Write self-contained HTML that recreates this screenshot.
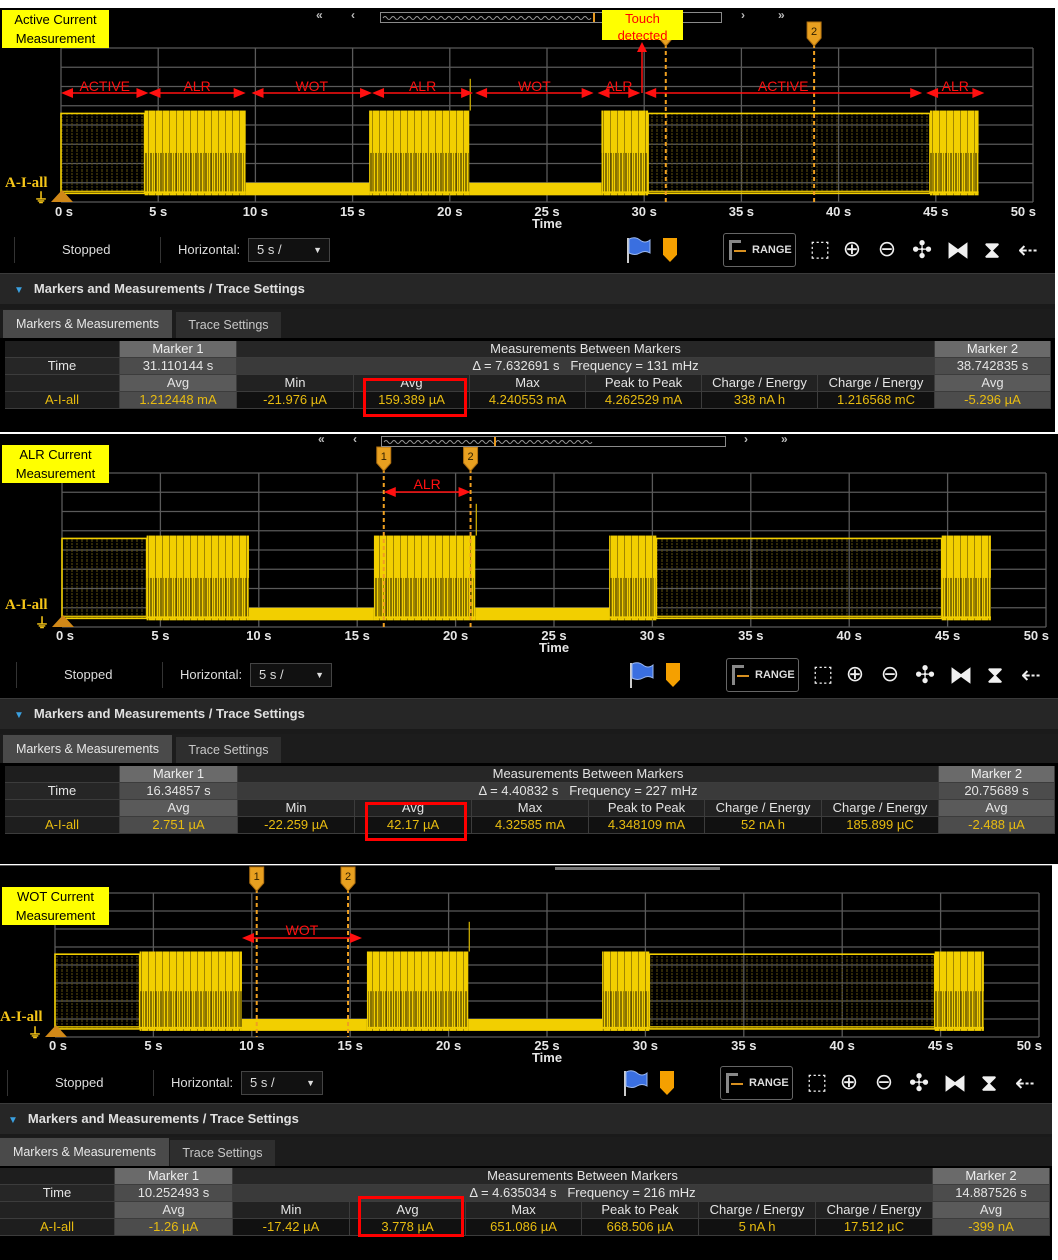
<!DOCTYPE html>
<html><head><meta charset="utf-8">
<style>
html,body{margin:0;padding:0;background:#fff;}
#root{position:relative;width:1058px;height:1260px;overflow:hidden;background:#fff;font-family:"Liberation Sans",sans-serif;}
.pnl{position:absolute;left:0;background:#000;}
.abs{position:absolute;box-sizing:border-box;}
.t{position:absolute;white-space:nowrap;}
.cell{position:absolute;box-sizing:border-box;text-align:center;font-size:13px;line-height:16px;color:#e4e4e4;white-space:nowrap;overflow:hidden;}
svg text{font-family:"Liberation Sans",sans-serif;}
</style></head>
<body>
<div id="root"></div>
<script>
// ---- waveform data (time in seconds, level in vertical divisions) ----
const segStart = [0, 4.3, 9.5, 15.85, 21.0, 27.8, 30.2, 44.7];
const segEnd   = [4.3, 9.5, 15.85, 21.0, 27.8, 30.2, 44.7, 47.2];
const segType  = ['active','alr','wot','alr','wot','alr','active','alr'];
const levelActive = 4.6;
const levelAlr = 4.75;
const levelWot = 1.0;
const levelBase = 0.45;
const tickVals = [0,5,10,15,20,25,30,35,40,45,50];
const tickLabels = ['0 s','5 s','10 s','15 s','20 s','25 s','30 s','35 s','40 s','45 s','50 s'];
const spikeTime = 21.0;
// annotations for panel 1
const annStart = [0, 4.5, 9.8, 16.0, 21.3, 27.6, 30.0, 44.5];
const annEnd   = [4.5, 9.5, 16.0, 21.2, 27.4, 29.8, 44.3, 47.5];
const annLabel = ['ACTIVE','ALR','WOT','ALR','WOT','ALR','ACTIVE','ALR'];
// measurement tables
const p1Vals = {m1:'31.110144 s', m2:'38.742835 s', delta:'\u0394 = 7.632691 s   Frequency = 131 mHz', row:['1.212448 mA','-21.976 \u00b5A','159.389 \u00b5A','4.240553 mA','4.262529 mA','338 nA h','1.216568 mC','-5.296 \u00b5A']};
const p2Vals = {m1:'16.34857 s', m2:'20.75689 s', delta:'\u0394 = 4.40832 s   Frequency = 227 mHz', row:['2.751 \u00b5A','-22.259 \u00b5A','42.17 \u00b5A','4.32585 mA','4.348109 mA','52 nA h','185.899 \u00b5C','-2.488 \u00b5A']};
const p3Vals = {m1:'10.252493 s', m2:'14.887526 s', delta:'\u0394 = 4.635034 s   Frequency = 216 mHz', row:['-1.26 \u00b5A','-17.42 \u00b5A','3.778 \u00b5A','651.086 \u00b5A','668.506 \u00b5A','5 nA h','17.512 \u00b5C','-399 nA']};
const colHeads = ['Avg','Min','Avg','Max','Peak to Peak','Charge / Energy','Charge / Energy','Avg'];

const root = document.getElementById('root');
const NS = 'http://www.w3.org/2000/svg';
function nm(el, n, i){
  
  
}
function div(parent, cls, css, txt){
  const d = document.createElement('div');
  d.className = cls; d.style.cssText = css;
  if (txt !== undefined) d.textContent = txt;
  parent.appendChild(d); return d;
}
function sv(parent, tag, at){
  const e = document.createElementNS(NS, tag);
  for (const k in at) e.setAttribute(k, at[k]);
  parent.appendChild(e); return e;
}

const panels = [
 {top:8, h:424, w:1055, x0:61, x50:1033, gTop:48, gBot:202, tickY:216, timeY:228, label:['Active Current','Measurement'], lab:[2,10], aiY:186, ovY:17, ovX:[380,722], arrows:[320,355,745,782],
  m1:31.11, m2:38.74, tb:250, lx:0, rx:0, hdr:273, tabs:310, tbl:341, cols:[5,120,237,354,470,586,702,818,935,1051], red:[363,378,104,39], vals:p1Vals, touch:true},
 {top:434, h:430, w:1058, x0:62, x50:1046, gTop:473, gBot:627, tickY:640, timeY:652, label:['ALR Current','Measurement'], lab:[2,445], aiY:608, ovY:441, ovX:[381,726], arrows:[322,357,748,785],
  m1:16.35, m2:20.76, tb:675, lx:2, rx:3, hdr:698, tabs:735, tbl:766, cols:[5,120,238,355,472,589,705,822,939,1055], red:[365,802,102,39], vals:p2Vals, ann:{s:16.35,e:20.76,l:'ALR',ay:492,ly:489}},
 {top:866, h:394, w:1052, x0:55, x50:1039, gTop:893, gBot:1037, tickY:1050, timeY:1062, label:['WOT Current','Measurement'], lab:[2,887], aiY:1020, ovY:868, ovX:[375,720], arrows:null,
  m1:10.25, m2:14.89, tb:1083, lx:-7, rx:-3, hdr:1103, tabs:1138, tbl:1168, cols:[0,115,233,350,466,582,699,816,933,1050], red:[358,1196,106,41], vals:p3Vals, ann:{s:9.5,e:15.6,l:'WOT',ay:938,ly:935}}
];

panels.forEach((P, pi) => {
  const pnl = div(root, 'pnl', `top:${P.top}px;width:${P.w}px;height:${P.h}px;`);
  nm(pnl, 'panel-' + (pi+1), false);
  const X = t => P.x0 + (P.x50 - P.x0) * t / 50;
  const dv = (P.gBot - P.gTop) / 8;
  const Y = v => P.gBot - v * dv;

  const svg = sv(root, 'svg', {width:1058, height:1260, style:'position:absolute;left:0;top:0;pointer-events:none'});
  nm(svg, 'waveform-chart-' + (pi+1), false);
  const defs = sv(svg, 'defs', {});
  const hatch = sv(defs, 'pattern', {id:'hatch'+pi, width:5, height:10, patternUnits:'userSpaceOnUse'});
  sv(hatch, 'line', {x1:2, y1:0, x2:2, y2:10, stroke:'#5e5010', 'stroke-width':1, 'stroke-dasharray':'2 1'});
  const burst = sv(defs, 'pattern', {id:'burst'+pi, width:7, height:200, patternUnits:'userSpaceOnUse'});
  sv(burst, 'rect', {x:0, y:0, width:7, height:200, fill:'#f2cf00'});
  sv(burst, 'line', {x1:1.5, y1:0, x2:1.5, y2:200, stroke:'#a08500', 'stroke-width':1});
  const burst2 = sv(defs, 'pattern', {id:'burstlow'+pi, width:5, height:200, patternUnits:'userSpaceOnUse'});
  sv(burst2, 'line', {x1:1, y1:0, x2:1, y2:200, stroke:'#2a2200', 'stroke-width':1.4});
  sv(burst2, 'line', {x1:3.5, y1:0, x2:3.5, y2:200, stroke:'#6a5800', 'stroke-width':0.8});

  // grid
  const grid = sv(svg, 'g', {});
  nm(grid, 'plot-grid', false);
  for (let i = 0; i <= 8; i++) sv(grid, 'line', {x1:P.x0, x2:P.x50, y1:P.gTop + i*dv, y2:P.gTop + i*dv, stroke:'#5a5a5a', 'stroke-width':1.3});
  tickVals.forEach((v, i) => {
    sv(grid, 'line', {x1:X(v), x2:X(v), y1:P.gTop, y2:P.gBot, stroke:'#5a5a5a', 'stroke-width':1.3});
    const tx = sv(svg, 'text', {x: i === tickVals.length-1 ? X(v)+3 : X(v)+ (i===0?3:0), y:P.tickY, fill:'#e6e6e6', 'font-size':13, 'font-weight':'bold', 'text-anchor': i === tickVals.length-1 ? 'end' : 'middle'});
    tx.textContent = tickLabels[i];
    nm(tx, 'x-tick-label', false);
  });
  const tt = sv(svg, 'text', {x:X(25), y:P.timeY, fill:'#e6e6e6', 'font-size':13, 'font-weight':'bold', 'text-anchor':'middle'});
  tt.textContent = 'Time';
  nm(tt, 'x-axis-title', false);

  // waveform
  const wf = sv(svg, 'g', {});
  nm(wf, 'current-trace', false);
  segType.forEach((tp, i) => {
    const xa = X(segStart[i]), xb = X(segEnd[i]);
    let r;
    if (tp === 'active') {
      r = sv(wf, 'rect', {x:xa, y:Y(levelActive), width:xb-xa, height:Y(levelBase)-Y(levelActive), fill:'url(#hatch'+pi+')', stroke:'#f2cf00', 'stroke-width':1.6});
      sv(wf, 'line', {x1:xa, x2:xb, y1:Y(levelBase)-2, y2:Y(levelBase)-2, stroke:'#d9b800', 'stroke-width':1.5});
    } else if (tp === 'alr') {
      const hh = Y(levelBase)-Y(levelAlr)+2;
      r = sv(wf, 'rect', {x:xa, y:Y(levelAlr), width:xb-xa, height:hh, fill:'url(#burst'+pi+')'});
      sv(wf, 'rect', {x:xa, y:Y(levelAlr)+hh*0.5, width:xb-xa, height:hh*0.5-2, fill:'url(#burstlow'+pi+')', opacity:0.75});
      sv(wf, 'line', {x1:xa, x2:xb, y1:Y(levelBase)-1, y2:Y(levelBase)-1, stroke:'#f2cf00', 'stroke-width':2});
    } else {
      r = sv(wf, 'rect', {x:xa, y:Y(levelWot), width:xb-xa, height:Y(levelBase)-Y(levelWot)+2, fill:'#f2cf00'});
    }
    
  });
  sv(wf, 'line', {x1:X(spikeTime)+1, x2:X(spikeTime)+1, y1:P.gTop + 1.6*dv, y2:Y(levelAlr), stroke:'#d9b800', 'stroke-width':1.2});

  // markers
  [P.m1, P.m2].forEach((m, k) => {
    const g = sv(svg, 'g', {});
    nm(g, 'marker-' + (k+1), true);
    sv(g, 'line', {x1:X(m), x2:X(m), y1:P.gTop-4, y2:P.gBot, stroke:'#f0a020', 'stroke-width':2, 'stroke-dasharray':'4 3'});
    const fy = P.gTop - 26;
    sv(g, 'path', {d:`M${X(m)-7},${fy} h14 v16 l-7,8 l-7,-8 z`, fill:'#e8a020', stroke:'#b07010'});
    const ft = sv(g, 'text', {x:X(m), y:fy+13, fill:'#302000', 'font-size':11, 'text-anchor':'middle'});
    ft.textContent = String(k+1);
  });

  // annotations
  const red = '#ff1010';
  function arrow(xa, xb, y, lbl, ly){
    const g = sv(svg, 'g', {});
    nm(g, 'phase-annotation-' + lbl.toLowerCase(), false);
    sv(g, 'line', {x1:xa+6, x2:xb-6, y1:y, y2:y, stroke:red, 'stroke-width':1.5});
    sv(g, 'path', {d:`M${xa},${y} l12,-5 v10 z M${xb},${y} l-12,-5 v10 z`, fill:red});
    const t = sv(g, 'text', {x:(xa+xb)/2, y:ly, fill:red, 'font-size':14, 'text-anchor':'middle'});
    t.textContent = lbl;
  }
  if (P.touch) {
    annLabel.forEach((l, i) => arrow(X(annStart[i]), X(annEnd[i]), 93, l, 91));
    const tg = sv(svg, 'g', {});
    nm(tg, 'touch-detected-arrow', false);
    sv(tg, 'line', {x1:642, x2:642, y1:93, y2:50, stroke:red, 'stroke-width':1.5});
    sv(tg, 'path', {d:'M642,42 l-5,10 h10 z', fill:red});
  }
  if (P.ann) arrow(X(P.ann.s), X(P.ann.e), P.ann.ay, P.ann.l, P.ann.ly);

  // overview bar
  if (P.arrows) {
    const ov = div(root, 'abs', `left:${P.ovX[0]}px;top:${P.ovY-5}px;width:${P.ovX[1]-P.ovX[0]}px;height:11px;border:1px solid #8a8a8a;background:#000;`);
    nm(ov, 'overview-scrollbar', true);
    const wave = document.createElementNS(NS,'svg');
    wave.setAttribute('width', P.ovX[1]-P.ovX[0]-2); wave.setAttribute('height', 9);
    wave.style.cssText = 'position:absolute;left:0;top:0';
    let d = 'M2,5';
    for (let x = 2; x < 210; x += 8) d += ` q2,-3 4,0 q2,3 4,0`;
    sv(wave, 'path', {d:d, stroke:'#9a9a9a', fill:'none', 'stroke-width':1});
    ov.appendChild(wave);
    div(ov, 'abs', `left:${P.ovX[0]===380?212:112}px;top:0;width:2px;height:9px;background:#e89a20;`);
    ['\u00ab','\u2039','\u203a','\u00bb'].forEach((c, i) => {
      const a = div(root, 't', `left:${P.arrows[i]-4}px;top:${P.ovY-9}px;color:#bbb;font-size:12px;font-weight:bold;`, c);
      nm(a, 'scroll-arrow', true);
    });
  } else {
    const ov = div(root, 'abs', `left:${P.ovX[0]+180}px;top:${P.ovY-1}px;width:${P.ovX[1]-P.ovX[0]-180}px;height:3px;background:#777;`);
    nm(ov, 'overview-scrollbar', true);
    div(root, 'abs', `left:0;top:${P.ovY-3}px;width:1052px;height:1px;background:#555;`);
  }

  // label box
  const lb = div(root, 'abs', `left:${P.lab[0]}px;top:${P.lab[1]}px;width:107px;height:38px;background:#ffff00;color:#000;font-size:13px;line-height:19px;text-align:center;padding-top:0;`);
  lb.innerHTML = P.label[0] + '<br>' + P.label[1];
  nm(lb, 'panel-title-box', false);
  if (P.touch) {
    const td = div(root, 'abs', `left:602px;top:10px;width:81px;height:30px;background:#ffff00;color:#ff0000;font-size:13px;line-height:17px;text-align:center;`);
    td.innerHTML = 'Touch<br>detected';
    nm(td, 'touch-detected-label', false);
  }
  const ai = div(root, 't', `left:${pi===2?0:5}px;top:${P.aiY-11}px;color:#f5c518;font-size:15px;font-weight:bold;font-family:"Liberation Serif",serif;`, 'A-I-all');
  nm(ai, 'channel-label', false);
  const gnd = div(root, 't', `left:${P.x0-27}px;top:${P.gBot-14}px;color:#f5c518;font-size:14px;font-weight:bold;`, '\u23da');
  nm(gnd, 'ground-symbol', false);
  const tri = div(root, 'abs', `left:${P.x0-10}px;top:${P.gBot-12}px;width:0;height:0;border-left:11px solid transparent;border-right:11px solid transparent;border-bottom:12px solid #d08818;`);
  nm(tri, 'ground-marker', true);

  // toolbar
  const ty = P.tb;
  div(root, 'abs', `left:${14+P.lx}px;top:${ty-13}px;width:1px;height:26px;background:#333;`);
  const st = div(root, 't', `left:${62+P.lx}px;top:${ty-8}px;color:#ddd;font-size:13px;`, 'Stopped');
  nm(st, 'status-stopped', false);
  div(root, 'abs', `left:${160+P.lx}px;top:${ty-13}px;width:1px;height:26px;background:#333;`);
  const hz = div(root, 't', `left:${178+P.lx}px;top:${ty-8}px;color:#ddd;font-size:13px;`, 'Horizontal:');
  nm(hz, 'horizontal-label', false);
  const dd = div(root, 'abs', `left:${248+P.lx}px;top:${ty-12}px;width:82px;height:24px;border:1px solid #444;background:#111;color:#ddd;font-size:13px;line-height:22px;padding-left:8px;`);
  dd.innerHTML = '5 s /<span style="position:absolute;right:7px;top:0;font-size:9px;">\u25bc</span>';
  nm(dd, 'horizontal-scale-dropdown', true);
  const R = P.rx;
  const fl = document.createElementNS(NS,'svg');
  fl.setAttribute('width',26); fl.setAttribute('height',28);
  fl.style.cssText = `position:absolute;left:${625+R}px;top:${ty-14}px;`;
  sv(fl,'line',{x1:3,y1:2,x2:3,y2:27,stroke:'#ccc','stroke-width':2});
  sv(fl,'path',{d:'M4,3 q6,-3 11,1 t10,0 v13 q-5,-3 -10,0 t-11,0 z',fill:'#3a6fe0',stroke:'#9bb8f0'});
  root.appendChild(fl);
  nm(fl, 'flag-button', true);
  const mk = div(root, 'abs', `left:${663+R}px;top:${ty-12}px;width:14px;height:24px;background:#f5a000;clip-path:polygon(0 0,100% 0,100% 70%,50% 100%,0 70%);`);
  nm(mk, 'add-marker-button', true);
  const rg = div(root, 'abs', `left:${723+R}px;top:${ty-17}px;width:73px;height:34px;border:1px solid #666;border-radius:3px;color:#ddd;font-size:11px;line-height:32px;padding-left:28px;font-weight:bold;`, 'RANGE');
  div(rg, 'abs', `left:5px;top:6px;width:12px;height:20px;border-left:3px solid #888;border-top:3px solid #888;`);
  div(rg, 'abs', `left:10px;top:16px;width:12px;height:2px;background:#d89020;`);
  nm(rg, 'range-button', true);
  const icons = ['\u2b1a','\u2295','\u2296','\u2723','\u29d3','\u29d7','\u21e0'];
  const iconNames = ['box-zoom','zoom-in','zoom-out','fit-all','fit-horizontal','fit-vertical','reset-horizontal'];
  const ixs = [820,852,887,922,958,992,1028];
  icons.forEach((c, i) => {
    const ic = div(root, 't', `left:${ixs[i]-12+R}px;top:${ty-13}px;width:24px;text-align:center;color:#f0f0f0;font-size:${i<3?22:24}px;line-height:26px;font-family:"DejaVu Sans",sans-serif;`, c);
    nm(ic, iconNames[i] + '-button', true);
  });

  // header
  const hd = div(root, 'abs', `left:0;top:${P.hdr}px;width:${P.w}px;height:31px;background:#262626;border-top:1px solid #3a3a3a;color:#e0e0e0;font-size:13px;line-height:30px;padding-left:${pi===2?8:14}px;font-weight:bold;`);
  hd.innerHTML = '<span style="color:#3aa0e0;font-size:10px;margin-right:10px;">\u25bc</span>Markers and Measurements / Trace Settings';
  nm(hd, 'markers-section-header', true);
  div(root, 'abs', `left:0;top:${P.hdr+31}px;width:${P.w}px;height:5px;background:#1a1a1a;`);
  div(root, 'abs', `left:0;top:${P.tabs-1}px;width:${P.w}px;height:29px;background:#1c1c1c;`);
  const t1 = div(root, 'abs', `left:${pi===2?0:3}px;top:${P.tabs}px;width:169px;height:28px;background:#4a4a4a;color:#e8e8e8;font-size:12.5px;line-height:28px;text-align:center;`, 'Markers & Measurements');
  nm(t1, 'tab-markers-measurements', true);
  const t2 = div(root, 'abs', `left:${pi===2?170:176}px;top:${P.tabs+2}px;width:105px;height:26px;background:#2e2e2e;color:#c8c8c8;font-size:12.5px;line-height:26px;text-align:center;`, 'Trace Settings');
  nm(t2, 'tab-trace-settings', true);

  // table
  const C = P.cols, y0 = P.tbl, rh = 17;
  const tbl = div(root, 'abs', `left:${C[0]}px;top:${y0}px;width:${C[9]-C[0]}px;height:${rh*4}px;background:#1e1e1e;`);
  nm(tbl, 'measurement-table', false);
  function cell(c0, c1, r, txt, bg, col, name){
    const c = div(root, 'cell', `left:${C[c0]}px;top:${y0+r*rh}px;width:${C[c1]-C[c0]}px;height:${rh}px;background:${bg};color:${col};border-right:1px solid #3c3c3c;border-bottom:1px solid #3c3c3c;`, txt);
    nm(c, name, false);
    return c;
  }
  cell(0,1,0,'','#1e1e1e','#ddd','blank-cell');
  cell(1,2,0,'Marker 1','#6a6a6a','#eee','marker1-header');
  cell(2,8,0,'Measurements Between Markers','#262626','#e4e4e4','between-header');
  cell(8,9,0,'Marker 2','#6a6a6a','#eee','marker2-header');
  cell(0,1,1,'Time','#262626','#e4e4e4','time-label');
  cell(1,2,1,P.vals.m1,'#4c4c4c','#e4e4e4','marker1-time');
  const dl = cell(2,8,1,P.vals.delta,'#3a3a3a','#e4e4e4','delta-frequency');
  dl.style.whiteSpace = 'pre';
  cell(8,9,1,P.vals.m2,'#4c4c4c','#e4e4e4','marker2-time');
  cell(0,1,2,'','#222','#ddd','blank-cell');
  colHeads.forEach((h, i) => cell(i+1, i+2, 2, h, (i===0||i===7)?'#5a5a5a':'#222', '#e4e4e4', 'column-header'));
  cell(0,1,3,'A-I-all','#1e1e1e','#e8bc10','row-channel-label');
  P.vals.row.forEach((v, i) => cell(i+1, i+2, 3, v, (i===0||i===7)?'#4c4c4c':'#111', '#e8bc10', 'value-cell'));

  const rb = div(root, 'abs', `left:${P.red[0]}px;top:${P.red[1]}px;width:${P.red[2]}px;height:${P.red[3]}px;border:3px solid #ff0000;`);
  nm(rb, 'highlight-avg-box', false);
});
</script>
</body></html>
